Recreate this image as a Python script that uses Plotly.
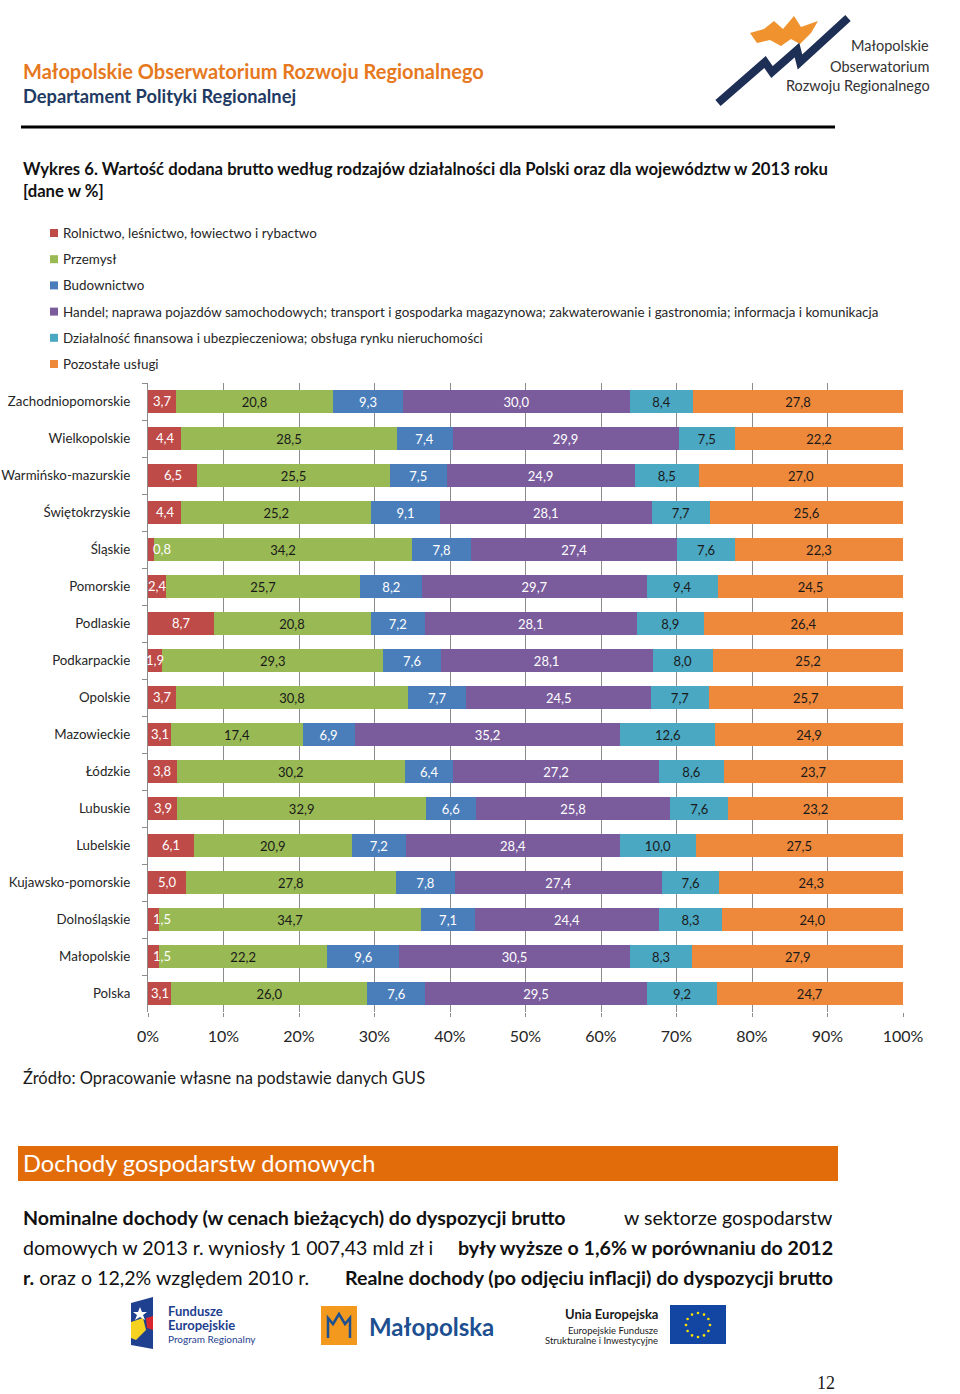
import math
import plotly.graph_objects as go

W, H = 960, 1394

regions = ["Zachodniopomorskie", "Wielkopolskie", "Warmińsko-mazurskie", "Świętokrzyskie",
           "Śląskie", "Pomorskie", "Podlaskie", "Podkarpackie", "Opolskie", "Mazowieckie",
           "Łódzkie", "Lubuskie", "Lubelskie", "Kujawsko-pomorskie", "Dolnośląskie",
           "Małopolskie", "Polska"]

series_names = ["Rolnictwo, leśnictwo, łowiectwo i rybactwo",
                "Przemysł",
                "Budownictwo",
                "Handel; naprawa pojazdów samochodowych; transport i gospodarka magazynowa; zakwaterowanie i gastronomia; informacja i komunikacja",
                "Działalność finansowa i ubezpieczeniowa; obsługa rynku nieruchomości",
                "Pozostałe usługi"]

rolnictwo = [3.7, 4.4, 6.5, 4.4, 0.8, 2.4, 8.7, 1.9, 3.7, 3.1, 3.8, 3.9, 6.1, 5.0, 1.5, 1.5, 3.1]
przemysl = [20.8, 28.5, 25.5, 25.2, 34.2, 25.7, 20.8, 29.3, 30.8, 17.4, 30.2, 32.9, 20.9, 27.8, 34.7, 22.2, 26.0]
budownictwo = [9.3, 7.4, 7.5, 9.1, 7.8, 8.2, 7.2, 7.6, 7.7, 6.9, 6.4, 6.6, 7.2, 7.8, 7.1, 9.6, 7.6]
handel = [30.0, 29.9, 24.9, 28.1, 27.4, 29.7, 28.1, 28.1, 24.5, 35.2, 27.2, 25.8, 28.4, 27.4, 24.4, 30.5, 29.5]
finanse = [8.4, 7.5, 8.5, 7.7, 7.6, 9.4, 8.9, 8.0, 7.7, 12.6, 8.6, 7.6, 10.0, 7.6, 8.3, 8.3, 9.2]
pozostale = [27.8, 22.2, 27.0, 25.6, 22.3, 24.5, 26.4, 25.2, 25.7, 24.9, 23.7, 23.2, 27.5, 24.3, 24.0, 27.9, 24.7]

series_values = [rolnictwo, przemysl, budownictwo, handel, finanse, pozostale]
colors = ["#BE4B48", "#98B954", "#4A7EBB", "#7A5C9D", "#4AA8C3", "#EE893C"]
label_colors = ["#FFFFFF", "#1A1A1A", "#FFFFFF", "#FFFFFF", "#1A1A1A", "#1A1A1A"]

x_ticks = list(range(0, 101, 10))

FONT = "Lato"


def px(x):
    return x / W


def py(y):
    return 1 - y / H


def fmt(v):
    return f"{v:.1f}".replace(".", ",")


fig = go.Figure()
for i, (name, vals, col, tcol) in enumerate(zip(series_names, series_values, colors, label_colors)):
    fig.add_trace(go.Bar(
        y=regions, x=vals, name=name, orientation="h",
        marker=dict(color=col, line=dict(width=0)),
        text=[fmt(v) for v in vals],
        textposition="none" if i == 0 else "inside",
        insidetextanchor="middle", textangle=0,
        textfont=dict(family=FONT, size=13, color=tcol),
        cliponaxis=False, showlegend=False, hoverinfo="skip",
    ))

ann = []
shapes = []

# first-series labels as annotations (Excel keeps narrow labels inside the plot area)
for reg, v, rest in zip(regions, rolnictwo, zip(*series_values)):
    share = v / sum(rest) * 100
    if share < 1.7:
        ann.append(dict(x=0.4, y=reg, xref="x", yref="y", text=fmt(v), showarrow=False,
                        xanchor="left", yanchor="middle",
                        font=dict(family=FONT, size=13, color=label_colors[0])))
    else:
        ann.append(dict(x=share / 2, y=reg, xref="x", yref="y", text=fmt(v), showarrow=False,
                        xanchor="center", yanchor="middle",
                        font=dict(family=FONT, size=13, color=label_colors[0])))

top_px, bot_px = 383, 1012
fig.update_layout(
    width=W, height=H, autosize=False,
    margin=dict(l=0, r=0, t=0, b=0, autoexpand=False),
    paper_bgcolor="white", plot_bgcolor="white",
    barmode="stack", barnorm="percent", bargap=0.38,
    uniformtext=dict(minsize=13, mode="show"),
    font=dict(family=FONT, color="#262626"),
    xaxis=dict(domain=[px(148), px(903)], range=[0, 100], tickvals=x_ticks,
               ticktext=[f"{t}%" for t in x_ticks], tickfont=dict(size=16, color="#262626"),
               showgrid=True, gridcolor="#8C8C8C", gridwidth=1, zeroline=False,
               showline=False, ticks="outside", ticklen=4, tickcolor="#8C8C8C",
               ticklabelstandoff=6, fixedrange=True, automargin=False),
    yaxis=dict(domain=[py(bot_px), py(top_px)], type="category",
               categoryorder="array", categoryarray=regions, autorange="reversed",
               tickfont=dict(size=13.3, color="#262626"), ticks="outside", tickson="boundaries",
               ticklen=5, tickcolor="#8C8C8C", showline=True, linecolor="#8C8C8C",
               showgrid=False, ticklabelstandoff=14, fixedrange=True, automargin=False),
)


def text(x, y, s, size, color="#1A1A1A", anchor="left", family=FONT, bold=False):
    if bold:
        s = f"<b>{s}</b>"
    ann.append(dict(x=px(x), y=py(y), xref="paper", yref="paper", text=s, showarrow=False,
                    xanchor=anchor, yanchor="middle",
                    font=dict(family=family, size=size, color=color)))


# Header
text(21, 71, "Małopolskie Obserwatorium Rozwoju Regionalnego", 20, "#E6781E", bold=True)
text(21, 96, "Departament Polityki Regionalnej", 18.3, "#1F3A63", bold=True)
shapes.append(dict(type="line", xref="paper", yref="paper", x0=px(21), x1=px(835),
                   y0=py(127), y1=py(127), line=dict(color="black", width=3)))


def path(points, closed=True):
    d = "M " + " L ".join(f"{px(a)},{py(b)}" for a, b in points)
    return d + (" Z" if closed else "")


# Top-right logo
orange_pts = [(750, 33), (764, 29), (774, 21), (783, 29), (794, 16), (801, 27), (818, 21),
              (811, 33), (800, 44), (791, 39), (781, 46), (770, 40), (757, 43)]
shapes.append(dict(type="path", xref="paper", yref="paper", path=path(orange_pts),
                   fillcolor="#F0922E", line=dict(width=0)))
navy_pts = [(718, 103), (765, 62), (772, 72), (797, 50), (800, 62), (848, 18)]
shapes.append(dict(type="path", xref="paper", yref="paper", path=path(navy_pts, closed=False),
                   line=dict(color="#1E2F55", width=8)))
text(931, 46, "Małopolskie", 14.5, "#333333", anchor="right")
text(931, 66, "Obserwatorium", 14.5, "#333333", anchor="right")
text(932, 86, "Rozwoju Regionalnego", 14.5, "#333333", anchor="right")

# Title
text(21, 169, "Wykres 6. Wartość dodana brutto według rodzajów działalności dla Polski oraz dla województw w 2013 roku",
     16.7, "#111111", bold=True)
text(21, 191, "[dane w %]", 16.7, "#111111", bold=True)

# Legend
for i, (name, col) in enumerate(zip(series_names, colors)):
    yc = 233 + i * 26.2
    shapes.append(dict(type="rect", xref="paper", yref="paper", x0=px(50), x1=px(58),
                       y0=py(yc + 4), y1=py(yc - 4), fillcolor=col, line=dict(width=0)))
    text(61, yc, name, 13.4, "#262626")

# Source
text(21, 1078, "Źródło: Opracowanie własne na podstawie danych GUS", 16.5, "#1A1A1A")

# Banner
shapes.append(dict(type="rect", xref="paper", yref="paper", x0=px(18), x1=px(838),
                   y0=py(1181), y1=py(1146), fillcolor="#E36C0A", line=dict(width=0)))
text(21, 1163, "Dochody gospodarstw domowych", 23.6, "white")

# Paragraph (justified lines approximated by anchored chunks)
PS = 19.6
text(21, 1217, "Nominalne dochody (w cenach bieżących) do dyspozycji brutto", PS, "#111111", bold=True)
text(835, 1217, "w sektorze gospodarstw", PS, "#111111", anchor="right")
text(21, 1247, "domowych w 2013 r. wyniosły 1 007,43 mld zł i", PS, "#111111")
text(835, 1247, "były wyższe o 1,6% w porównaniu do 2012", PS, "#111111", anchor="right", bold=True)
text(21, 1277, "<b>r.</b> oraz o 12,2% względem 2010 r.", PS, "#111111")
text(835, 1277, "Realne dochody (po odjęciu inflacji) do dyspozycji brutto", PS, "#111111", anchor="right", bold=True)

# Footer logos
shapes.append(dict(type="path", xref="paper", yref="paper",
                   path=path([(131, 1303), (153, 1297), (153, 1349), (131, 1345)]),
                   fillcolor="#1F3F8F", line=dict(width=0)))
shapes.append(dict(type="path", xref="paper", yref="paper",
                   path=path([(131, 1322), (143, 1318), (146, 1330), (136, 1340), (131, 1338)]),
                   fillcolor="#F4D21F", line=dict(width=0)))
shapes.append(dict(type="path", xref="paper", yref="paper",
                   path=path([(146, 1318), (153, 1316), (153, 1330), (147, 1328)]),
                   fillcolor="#D9262E", line=dict(width=0)))
shapes.append(dict(type="path", xref="paper", yref="paper",
                   path=path([(140, 1307), (142, 1312), (147, 1312), (143, 1315), (145, 1320),
                              (140, 1317), (135, 1320), (137, 1315), (133, 1312), (138, 1312)]),
                   fillcolor="white", line=dict(width=0)))
text(166, 1311, "Fundusze", 13, "#1F3F8F", bold=True)
text(166, 1325, "Europejskie", 13, "#1F3F8F", bold=True)
text(166, 1339, "Program Regionalny", 10, "#1F3F8F")

shapes.append(dict(type="rect", xref="paper", yref="paper", x0=px(321), x1=px(357),
                   y0=py(1345), y1=py(1306), fillcolor="#F39A1E", line=dict(width=0)))
shapes.append(dict(type="path", xref="paper", yref="paper",
                   path=path([(328, 1338), (328, 1318), (333, 1324), (339, 1314), (345, 1324),
                              (350, 1318), (350, 1338)], closed=False),
                   line=dict(color="#1D4F91", width=2.5)))
text(367, 1326, "Małopolska", 24, "#1D4F91", bold=True)

text(660, 1314, "Unia Europejska", 13, "#1A1A1A", anchor="right", bold=True)
text(660, 1330, "Europejskie Fundusze", 9.5, "#1A1A1A", anchor="right")
text(660, 1340, "Strukturalne i Inwestycyjne", 9.5, "#1A1A1A", anchor="right")
shapes.append(dict(type="rect", xref="paper", yref="paper", x0=px(670), x1=px(726),
                   y0=py(1344), y1=py(1305), fillcolor="#1346A3", line=dict(width=0)))
for k in range(12):
    a = 2 * math.pi * k / 12
    cx, cy = 698 + 12 * math.cos(a), 1325 + 12 * math.sin(a)
    shapes.append(dict(type="circle", xref="paper", yref="paper",
                       x0=px(cx - 1.3), x1=px(cx + 1.3), y0=py(cy + 1.3), y1=py(cy - 1.3),
                       fillcolor="#FFE100", line=dict(width=0)))

# Page number
text(826, 1383, "12", 18, "#1A1A1A", anchor="center", family="Liberation Serif")

fig.update_layout(annotations=ann, shapes=shapes)
fig.write_html("out.html",
               config={"responsive": False, "displayModeBar": False},
               default_width="960px", default_height="1394px",
               post_script="document.body.style.margin='0';document.body.style.overflow='hidden';"
                           "document.documentElement.style.overflow='hidden';")
